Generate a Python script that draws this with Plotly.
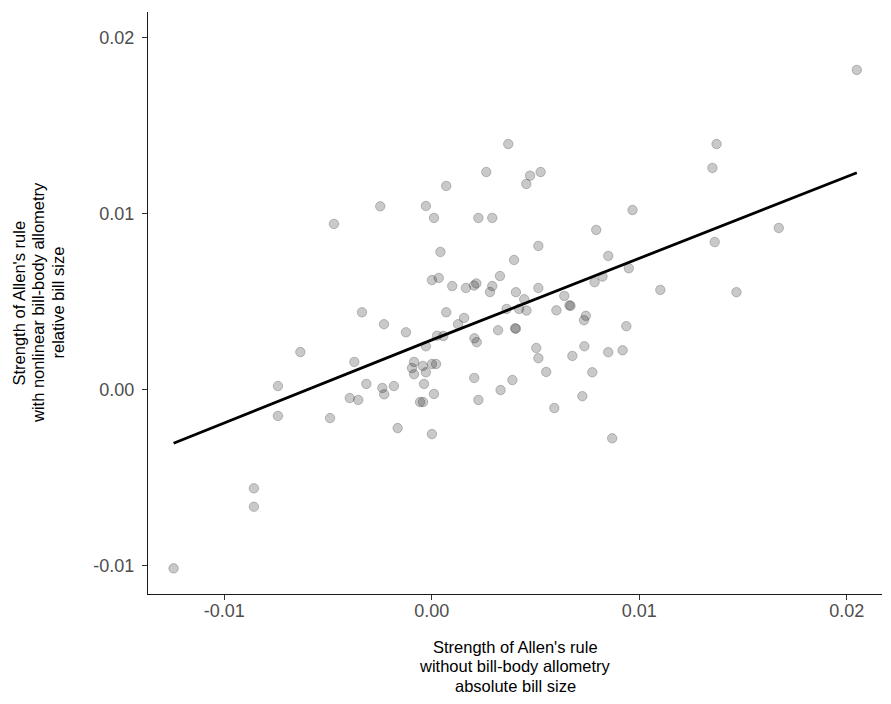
import plotly.graph_objects as go

# Scatter points: strength without allometry (x) vs with nonlinear allometry (y)
x_abs = [-0.01244, -0.00857, -0.00857, -0.00741, -0.00741, -0.00633, -0.00490, -0.00471,
         -0.00395, -0.00373, -0.00354, -0.00336, -0.00315, -0.00248, -0.00238, -0.00229,
         -0.00230, -0.00182, -0.00164, -0.00124, -0.00095, -0.00085, -0.00085, -0.00056,
         -0.00042, -0.00043, -0.00028, -0.00037, -0.00028, -0.00028, 0.00001, 0.00021,
         0.00001, 0.00011, 0.00011, 0.00001, 0.00034, 0.00026, 0.00056, 0.00042,
         0.00070, 0.00070, 0.00099, 0.00127, 0.00156, 0.00165, 0.00204, 0.00215,
         0.00206, 0.00217, 0.00205, 0.00225, 0.00225, 0.00263, 0.00281, 0.00292,
         0.00292, 0.00320, 0.00329, 0.00332, 0.00361, 0.00369, 0.00389, 0.00397,
         0.00402, 0.00406, 0.00406, 0.00421, 0.00457, 0.00446, 0.00456, 0.00474,
         0.00525, 0.00504, 0.00514, 0.00514, 0.00514, 0.00552, 0.00591, 0.00601,
         0.00639, 0.00664, 0.00669, 0.00678, 0.00726, 0.00736, 0.00743, 0.00734,
         0.00774, 0.00785, 0.00793, 0.00823, 0.00851, 0.00851, 0.00870, 0.00920,
         0.00938, 0.00950, 0.00968, 0.01102, 0.01353, 0.01364, 0.01373, 0.01469,
         0.01673, 0.02049]
y_rel = [-0.01014, -0.00559, -0.00664, 0.00022, -0.00148, 0.00215, -0.00160, 0.00943,
         -0.00046, 0.00159, -0.00057, 0.00441, 0.00034, 0.01043, 0.00011, -0.00025,
         0.00373, 0.00022, -0.00217, 0.00327, 0.00124, 0.00159, 0.00089, -0.00069,
         -0.00069, 0.00136, 0.00100, 0.00034, 0.00248, 0.01045, 0.00147, 0.00147,
         -0.00251, -0.00023, 0.00977, 0.00624, 0.00636, 0.00308, 0.00306, 0.00784,
         0.01159, 0.00441, 0.00590, 0.00373, 0.00409, 0.00579, 0.00593, 0.00605,
         0.00293, 0.00271, 0.00068, -0.00057, 0.00977, 0.01238, 0.00556, 0.00590,
         0.00977, 0.00339, 0.00647, -0.00001, 0.00460, 0.01397, 0.00056, 0.00738,
         0.00350, 0.00348, 0.00555, 0.00460, 0.00451, 0.00515, 0.01170, 0.01217,
         0.01238, 0.00238, 0.00180, 0.00818, 0.00579, 0.00102, -0.00103, 0.00452,
         0.00534, 0.00481, 0.00477, 0.00193, -0.00036, 0.00248, 0.00421, 0.00396,
         0.00100, 0.00612, 0.00909, 0.00644, 0.00761, 0.00214, -0.00275, 0.00225,
         0.00362, 0.00691, 0.01022, 0.00568, 0.01261, 0.00840, 0.01397, 0.00555,
         0.00920, 0.01818]

# Fitted trend line (read at start, middle, end)
line_x = [-0.01244, 0.00001, 0.02049]
line_y = [-0.00303, 0.00284, 0.01234]

x_ticks = [-0.01, 0.00, 0.01, 0.02]
x_tick_text = ["-0.01", "0.00", "0.01", "0.02"]
y_ticks = [-0.01, 0.00, 0.01, 0.02]
y_tick_text = ["-0.01", "0.00", "0.01", "0.02"]

x_title_lines = ["Strength of Allen's rule", "without bill-body allometry", "absolute bill size"]
y_title_lines = ["Strength of Allen's rule", "with nonlinear bill-body allometry", "relative bill size"]

FONT = "Liberation Sans, Arial, sans-serif"
TICK_SIZE = 18
TITLE_SIZE = 16.5
LINE_GAP = 19.5

fig = go.Figure()
fig.add_trace(go.Scatter(
    x=x_abs, y=y_rel, mode="markers",
    marker=dict(size=9.5, color="rgba(0,0,0,0.21)",
                line=dict(color="rgba(0,0,0,0.21)", width=1)),
    showlegend=False, hoverinfo="x+y"))
fig.add_trace(go.Scatter(
    x=line_x, y=line_y, mode="lines",
    line=dict(color="black", width=2.8),
    showlegend=False, hoverinfo="skip"))

axis_common = dict(
    showgrid=False, zeroline=False, showline=True, linecolor="#1a1a1a", linewidth=1.4,
    ticks="outside", ticklen=5, tickwidth=1.2, tickcolor="#333333",
    tickfont=dict(family=FONT, size=TICK_SIZE, color="#4d4d4d"),
)
fig.update_xaxes(range=[-0.013674, 0.021704], tickvals=x_ticks, ticktext=x_tick_text,
                 ticklabelstandoff=-5, **axis_common)
fig.update_yaxes(range=[-0.011597, 0.021472], tickvals=y_ticks, ticktext=y_tick_text,
                 ticklabelstandoff=4, **axis_common)

for i, t in enumerate(x_title_lines):
    fig.add_annotation(text=t, xref="paper", yref="paper", x=0.5, y=0,
                       xanchor="center", yanchor="middle", yshift=-52.5 - LINE_GAP * i,
                       showarrow=False,
                       font=dict(family=FONT, size=TITLE_SIZE, color="black"))
for i, t in enumerate(y_title_lines):
    fig.add_annotation(text=t, xref="paper", yref="paper", x=0, y=0.5,
                       xanchor="center", yanchor="middle", xshift=-129.5 + LINE_GAP * i,
                       textangle=-90, showarrow=False,
                       font=dict(family=FONT, size=TITLE_SIZE, color="black"))

# page has an 8px body margin; figure sized so the panel lands where the reference has it
fig.update_layout(
    width=883, height=696,
    margin=dict(l=140, r=9, t=4, b=110),
    plot_bgcolor="white", paper_bgcolor="white",
)

fig.write_html("out.html")
